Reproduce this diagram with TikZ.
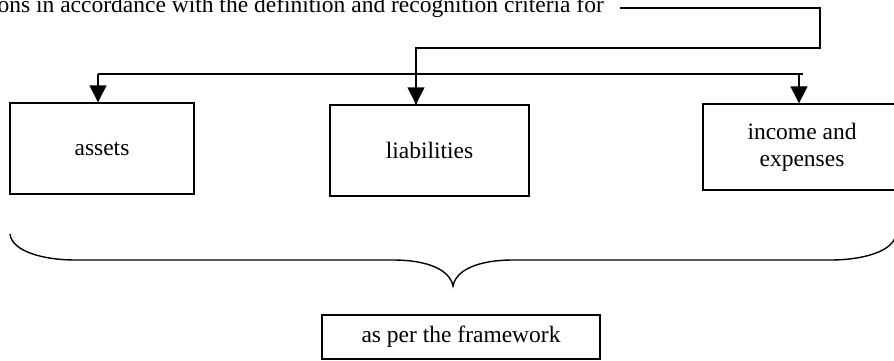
\documentclass[tikz,border=0pt]{standalone}
\usepackage{fontspec}
\setmainfont{Liberation Serif}
\usetikzlibrary{arrows.meta}
\begin{document}
\begin{tikzpicture}[x=1pt,y=-1pt,
  box/.style={draw, line width=1.4pt, inner sep=0pt, align=center,
    font=\fontsize{23.5}{27}\selectfont},
  conn/.style={line width=1.4pt},
  arr/.style={conn, -{Triangle[length=17pt,width=17pt]}},
  brace/.style={line width=1.4pt}]
\useasboundingbox (0,0) rectangle (894,360);
\node[anchor=base east, inner sep=0pt, font=\fontsize{23.5}{27}\selectfont] (t) at (604,12)
  {ons in accordance with the definition and recognition criteria for};
\node[box, minimum width=184pt, minimum height=91pt] (a) at (102,148.5) {assets};
\node[box, minimum width=199pt, minimum height=91pt] (l) at (429.5,150.5) {liabilities};
\node[box, minimum width=198pt, minimum height=86pt] (i) at (802,147) {income and\\expenses};
\node[box, minimum width=278pt, minimum height=44pt] (f) at (461,337) {as per the framework};
% upper connector
\coordinate (c0) at (620,8);
\coordinate (c1) at (820,8);
\coordinate (c2) at (820,48);
\coordinate (c3) at (416,48);
\draw[conn] (c0) -- (c1) -- (c2) -- (c3) -- (c3 |- l.north);
\draw[arr] (c3) -- (c3 |- l.north);
% lower connector
\coordinate (h0) at (98,74);
\coordinate (h1) at (799,74);
\coordinate (h2) at (803,74);
\draw[conn] (h0) -- (h2);
\draw[arr] (h0) -- (h0 |- a.north);
\draw[arr] (h1) -- (h1 |- i.north);
% brace
\coordinate (b0) at (10,234);
\coordinate (b1) at (75,260);
\coordinate (b2) at (393,260);
\coordinate (tip) at (453,286);
\coordinate (b3) at (513,260);
\coordinate (b4) at (831,260);
\coordinate (b5) at (896,234);
\draw[brace] (b0) .. controls (12,252) and (45,260) .. (b1) -- (b2)
  .. controls (428,260) and (450,270) .. (tip)
  .. controls (456,270) and (478,260) .. (b3) -- (b4)
  .. controls (861,260) and (894,252) .. (b5);
\end{tikzpicture}
\end{document}
